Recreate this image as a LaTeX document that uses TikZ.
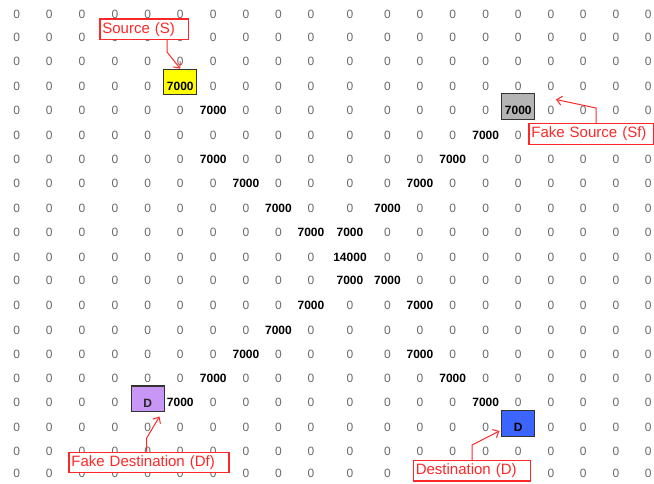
\documentclass[tikz,border=0pt]{standalone}
\usepackage{fontspec}
\setmainfont{Liberation Sans}
\usetikzlibrary{arrows.meta, calc}

\definecolor{lblred}{RGB}{255,40,40}
\definecolor{zerogray}{RGB}{105,105,105}
\definecolor{srcyellow}{RGB}{255,255,0}
\definecolor{fakegray}{RGB}{180,180,180}
\definecolor{fakepurple}{RGB}{200,150,245}
\definecolor{dstblue}{RGB}{60,100,255}

\begin{document}
\begin{tikzpicture}[
    x=1pt, y=-1pt,
    zero/.style={text=zerogray, inner sep=0pt, font=\fontsize{12}{14}\selectfont},
    hot/.style={text=black, inner sep=0pt, font=\fontsize{12}{14}\selectfont\bfseries},
    cellbox/.style={rectangle, draw=black!80, line width=1.2pt, minimum width=33pt, minimum height=25.5pt, inner sep=0pt, text height=16.6pt, text depth=0pt, font=\fontsize{12}{14}\selectfont\bfseries},
    lbl/.style={rectangle, draw=lblred, line width=1.2pt, fill=white, text=lblred, anchor=west, align=left, inner xsep=2.5pt, inner ysep=0pt, minimum height=20.5pt, font=\fontsize{15}{18}\selectfont},
    pointer/.style={draw=lblred, line width=1pt, -{Straight Barb[length=5pt, width=9pt]}}
]
    \useasboundingbox (0,0) rectangle (654,483);
    \def\colx{{16.7,49.3,82,115,147.7,180.3,213.3,246,278.5,311,350,387.5,420,452.7,485.7,518.3,551,583.3,616,648.3}}
    \def\rowy{{14,37.5,61.7,86,110.5,135,159.5,183.5,208.3,232.7,257,280.7,305,330,354.3,378.3,402.7,427.5,451,473.3}}

    % Cells that do not show a zero (values, boxes, or hidden under a label)
    \foreach \r/\c in {3/5,4/6,4/15,5/14,6/6,6/13,7/7,7/12,8/8,8/11,9/9,9/10,10/10,11/10,11/11,12/9,12/12,13/8,14/7,14/12,15/6,15/13,16/4,16/5,16/14,17/15,
                       5/16,5/17,5/18,5/19,19/12,19/13,19/14,19/15}
        {\expandafter\gdef\csname used\r-\c\endcsname{}}

    % Zero grid
    \foreach \r in {0,...,19} {
        \foreach \c in {0,...,19} {
            \ifcsname used\r-\c\endcsname\else
                \node[zero] (z\r-\c) at ({\colx[\c]},{\rowy[\r]}) {0};
            \fi
        }
    }

    % Traffic on the paths
    \foreach \r/\c/\v in {4/6/7000,5/14/7000,6/6/7000,6/13/7000,7/7/7000,7/12/7000,8/8/7000,8/11/7000,9/9/7000,9/10/7000,10/10/14000,11/10/7000,11/11/7000,12/9/7000,12/12/7000,13/8/7000,14/7/7000,14/12/7000,15/6/7000,15/13/7000,16/5/7000,16/14/7000}
        \node[hot] (h\r-\c) at ({\colx[\c]},{\rowy[\r]}) {\v};

    % Sources and destinations
    \node[cellbox, fill=srcyellow] (src) at ({\colx[5]},{\rowy[3]-4}) {7000};
    \node[cellbox, fill=fakegray] (fsrc) at ({\colx[15]},{\rowy[4]-4}) {7000};
    \node[cellbox, fill=fakepurple, text=black!85] (fdst) at ({\colx[4]},{\rowy[16]-4}) {D};
    \node[cellbox, fill=dstblue] (dst) at ({\colx[15]},{\rowy[17]-4}) {D};

    % Labels
    \node[lbl, text width=83.4pt] (lsrc) at (99.3,29.2) {Source (S)};
    \node[lbl, text width=120pt] (lfsrc) at (528.3,134) {Fake Source (Sf)};
    \node[lbl, text width=155pt] (lfdst) at (68.3,462.5) {Fake Destination (Df)};
    \node[lbl, text width=112.3pt] (ldst) at (412.7,470.7) {Destination (D)};

    % Pointers
    \coordinate (srcbend) at (167,52);
    \coordinate (fsrcbend) at (596,108);
    \coordinate (fsrctip) at (556,99.5);
    \coordinate (fdstbend) at (146.7,438);
    \coordinate (fdsttip) at (159.5,416.5);
    \coordinate (dstbend) at (472,445);
    \coordinate (dsttip) at (499.5,431);
    \draw[pointer] (lsrc.south -| srcbend) -- (srcbend) -- (src.north);
    \draw[pointer] (lfsrc.north -| fsrcbend) -- (fsrcbend) -- (fsrctip);
    \draw[pointer] (lfdst.north -| fdstbend) -- (fdstbend) -- (fdsttip);
    \draw[pointer] (ldst.north -| dstbend) -- (dstbend) -- (dsttip);
\end{tikzpicture}
\end{document}
